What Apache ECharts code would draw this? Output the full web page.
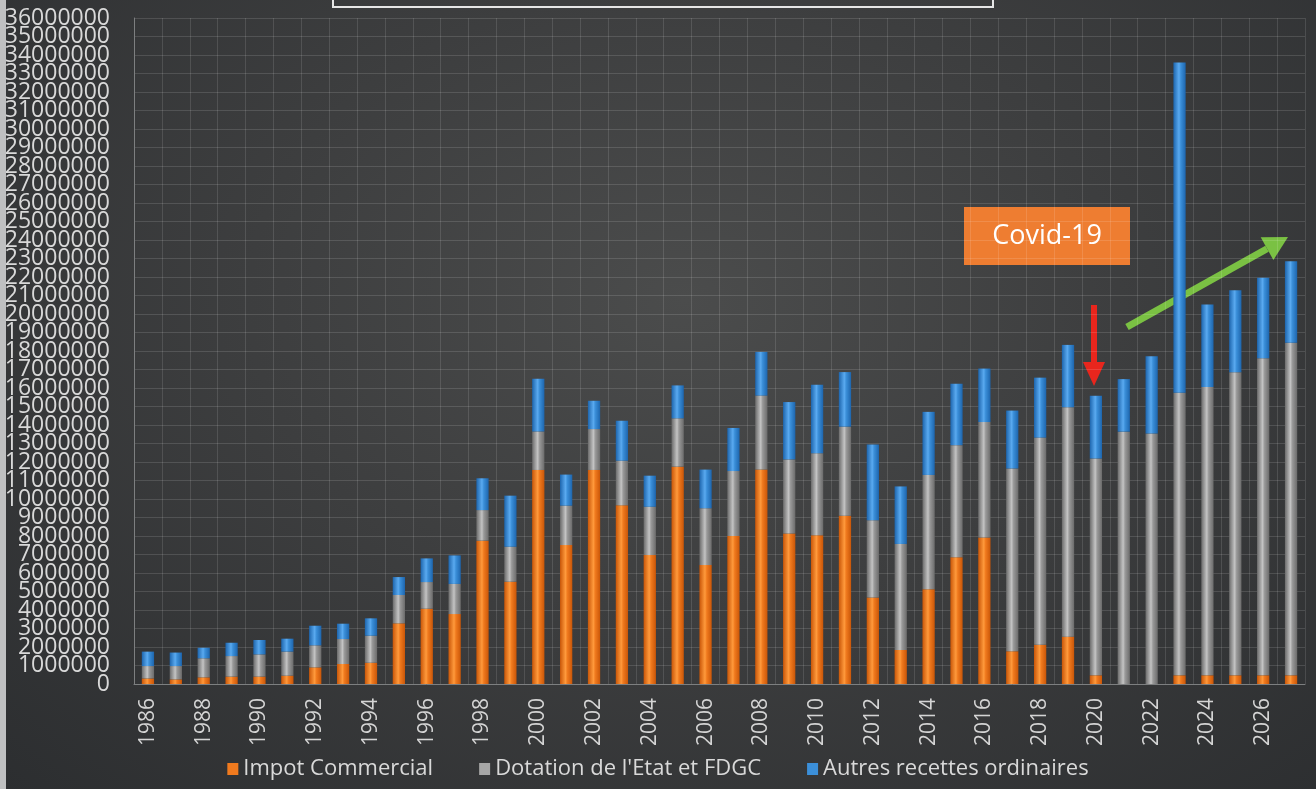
<!DOCTYPE html>
<html>
<head>
<meta charset="utf-8">
<script src="https://cdn.jsdelivr.net/npm/echarts@6/dist/echarts.min.js"></script>
<style>
  html, body { margin: 0; padding: 0; }
  #chart {
    width: 1316px;
    height: 789px;
    background: radial-gradient(ellipse at 52% 38%, #4b4c4c 0%, #3d3e3f 45%, #2c2e30 100%);
  }
</style>
</head>
<body>
<div id="chart"></div>
<script>
// années 1986 -> 2027
const years = [];
for (let y = 1986; y <= 2027; y++) years.push(String(y));

const impotCommercial = [
  300000, 250000, 360000, 400000, 400000, 450000, 900000, 1080000, 1150000, 3280000,
  4070000, 3780000, 7750000, 5530000, 11570000, 7510000, 11570000, 9660000, 6970000, 11750000,
  6430000, 8000000, 11600000, 8140000, 8040000, 9100000, 4670000, 1840000, 5120000, 6850000,
  7920000, 1770000, 2120000, 2560000, 470000, 0, 0, 470000, 470000, 470000,
  470000, 470000
];
const dotationEtat = [
  670000, 720000, 1030000, 1110000, 1200000, 1300000, 1190000, 1350000, 1460000, 1530000,
  1440000, 1630000, 1650000, 1890000, 2080000, 2130000, 2210000, 2410000, 2610000, 2610000,
  3070000, 3510000, 3990000, 4000000, 4430000, 4810000, 4180000, 5730000, 6180000, 6060000,
  6240000, 9880000, 11200000, 12400000, 11720000, 13640000, 13540000, 15280000, 15590000, 16380000,
  17140000, 17970000
];
const autresRecettes = [
  780000, 730000, 570000, 720000, 780000, 700000, 1060000, 830000, 940000, 970000,
  1280000, 1540000, 1720000, 2760000, 2850000, 1680000, 1530000, 2160000, 1680000, 1780000,
  2090000, 2330000, 2360000, 3100000, 3710000, 2950000, 4100000, 3110000, 3410000, 3320000,
  2890000, 3130000, 3240000, 3370000, 3390000, 2840000, 4180000, 17850000, 4450000, 4430000,
  4350000, 4410000
];
const yTicks = { min: 0, max: 36000000, interval: 1000000 };

const font = '"Open Sans", "Noto Sans", sans-serif';

function cylinder(dark, mid, light) {
  return {
    type: 'linear', x: 0, y: 0, x2: 1, y2: 0,
    colorStops: [
      { offset: 0, color: dark },
      { offset: 0.45, color: light },
      { offset: 0.6, color: mid },
      { offset: 1, color: dark }
    ]
  };
}

const yLabelStyle = {
  margin: 24,
  color: '#d9d9d9',
  fontSize: 23,
  fontFamily: font
};

const chart = echarts.init(document.getElementById('chart'), null, { renderer: 'canvas' });

// flèche verte (tendance)
const gx1 = 1127, gy1 = 327, gx2 = 1288, gy2 = 237;
const glen = Math.hypot(gx2 - gx1, gy2 - gy1);
const ux = (gx2 - gx1) / glen, uy = (gy2 - gy1) / glen;
const bx = gx2 - 24 * ux, by = gy2 - 24 * uy;
const px = -uy, py = ux;

chart.setOption({
  backgroundColor: 'transparent',
  animation: false,
  grid: { left: 134, right: 11, top: 18, bottom: 105, containLabel: false, outerBoundsMode: 'none' },
  legend: {
    bottom: 4,
    left: 'center',
    icon: 'rect',
    itemWidth: 11,
    itemHeight: 12,
    itemGap: 46,
    textStyle: { color: '#d9d9d9', fontSize: 22, fontFamily: font },
    data: [
      { name: 'Impot Commercial', itemStyle: { color: '#f07a1e' } },
      { name: "Dotation de l'Etat et FDGC", itemStyle: { color: '#a6a6a6' } },
      { name: 'Autres recettes ordinaires', itemStyle: { color: '#3b8fd9' } }
    ]
  },
  xAxis: {
    type: 'category',
    data: years,
    axisLine: { show: true, lineStyle: { color: '#7d7f80', width: 1 } },
    axisTick: { show: false },
    axisLabel: {
      interval: 1,
      rotate: 90,
      margin: 14,
      color: '#d4d4d4',
      fontSize: 21,
      fontFamily: font
    },
    splitLine: { show: true, interval: 0, lineStyle: { color: 'rgba(255,255,255,0.12)' } }
  },
  yAxis: [
    {
      // graduations intermédiaires
      type: 'value',
      min: yTicks.min,
      max: yTicks.max,
      interval: yTicks.interval,
      axisLine: { show: true, lineStyle: { color: '#7d7f80' } },
      axisTick: { show: false },
      axisLabel: Object.assign({}, yLabelStyle, {
        showMinLabel: false,
        showMaxLabel: false,
        formatter: v => String(v)
      }),
      splitLine: { show: true, lineStyle: { color: 'rgba(255,255,255,0.13)' } }
    },
    {
      // 0 et 36000000
      type: 'value',
      position: 'left',
      min: yTicks.min,
      max: yTicks.max,
      interval: yTicks.interval,
      axisLine: { show: false },
      axisTick: { show: false },
      splitLine: { show: false },
      axisLabel: Object.assign({}, yLabelStyle, {
        showMinLabel: true,
        showMaxLabel: true,
        formatter: v => (v === yTicks.min || v === yTicks.max) ? String(v) : ''
      })
    }
  ],
  series: [
    {
      name: 'Impot Commercial',
      type: 'bar',
      stack: 'total',
      barWidth: '44%',
      data: impotCommercial,
      itemStyle: { color: cylinder('#c95608', '#f07a1e', '#ff9a3c') }
    },
    {
      name: "Dotation de l'Etat et FDGC",
      type: 'bar',
      stack: 'total',
      data: dotationEtat,
      itemStyle: { color: cylinder('#6b6b6b', '#9a9a9a', '#c4c4c4') }
    },
    {
      name: 'Autres recettes ordinaires',
      type: 'bar',
      stack: 'total',
      data: autresRecettes,
      itemStyle: { color: cylinder('#1d65ad', '#3b8fd9', '#5aaaf0') }
    }
  ],
  graphic: [
    // bord gauche clair
    { type: 'rect', left: 0, top: 0, shape: { width: 6, height: 789 }, style: { fill: '#bfc0c1' }, z: 100 },
    // cadre du titre (coupé)
    { type: 'rect', shape: { x: 333, y: -20, width: 660, height: 27 }, style: { fill: 'transparent', stroke: '#e6e6e6', lineWidth: 2 }, z: 100 },
    // encadré Covid-19
    {
      type: 'group', z: 100,
      children: [
        { type: 'rect', shape: { x: 964, y: 207, width: 166, height: 58 }, style: { fill: '#ee7d31' } },
        {
          type: 'text', x: 1047, y: 236,
          style: { text: 'Covid-19', fill: '#ffffff', font: '27px ' + font, align: 'center', verticalAlign: 'middle' }
        }
      ]
    },
    // flèche rouge
    {
      type: 'group', z: 100,
      children: [
        { type: 'line', shape: { x1: 1094, y1: 305, x2: 1094, y2: 366 }, style: { stroke: '#e8261d', lineWidth: 6 } },
        { type: 'polygon', shape: { points: [[1083, 362], [1105, 362], [1094, 386]] }, style: { fill: '#e8261d' } }
      ]
    },
    // flèche verte
    {
      type: 'group', z: 100,
      children: [
        { type: 'line', shape: { x1: gx1, y1: gy1, x2: bx, y2: by }, style: { stroke: '#7ac143', lineWidth: 7 } },
        {
          type: 'polygon',
          shape: { points: [[bx + 13 * px, by + 13 * py], [bx - 13 * px, by - 13 * py], [gx2, gy2]] },
          style: { fill: '#7ac143' }
        }
      ]
    }
  ]
});
</script>
</body>
</html>
